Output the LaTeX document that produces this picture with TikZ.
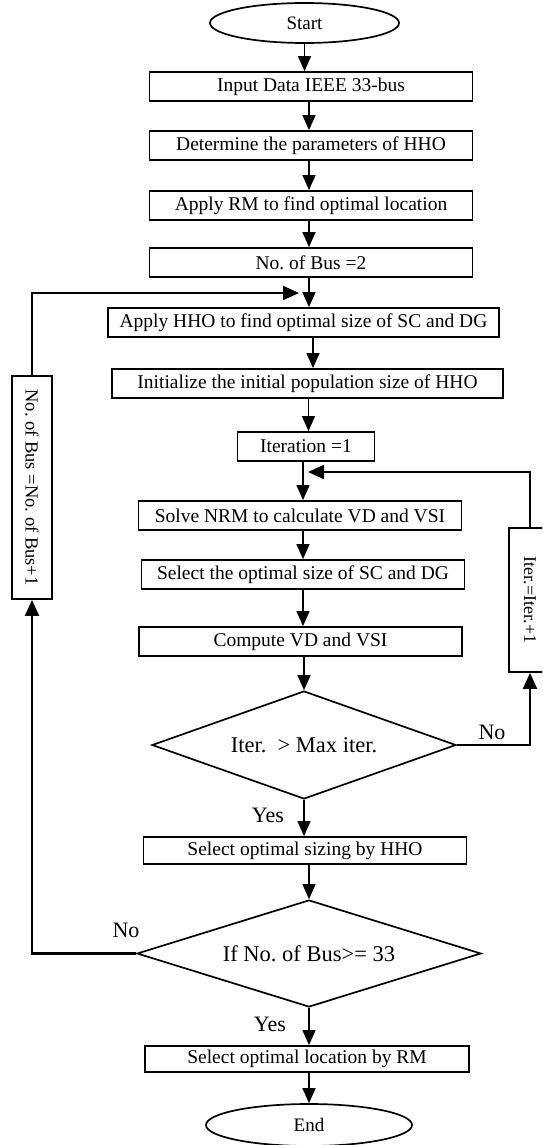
\documentclass[tikz,border=0pt]{standalone}
\usepackage{fontspec}
\setmainfont{Liberation Serif}
\usepackage{graphicx}
\usetikzlibrary{shapes.geometric,arrows.meta}
\frenchspacing
\begin{document}
\begin{tikzpicture}[x=1pt,y=-1pt,
  box/.style={draw, line width=1.8pt, minimum height=29pt, inner sep=0pt, font=\fontsize{19.5}{22}\selectfont},
  dec/.style={diamond, draw, line width=1.7pt, inner sep=0pt, font=\fontsize{22.5}{26}\selectfont},
  term/.style={ellipse, draw, line width=1.7pt, inner sep=0pt, font=\fontsize{19}{22}\selectfont},
  arr/.style={line width=1.4pt, -{Triangle[length=15pt,width=13pt]}},
  looparr/.style={line width=2.2pt, -{Triangle[length=16pt,width=14pt]}},
  lbl/.style={font=\fontsize{22}{26}\selectfont, inner sep=0pt}
]
\clip (0,0) rectangle (542,1145);
\fill[white] (0,0) rectangle (542,1145);

\node[term, minimum width=189pt, minimum height=40pt] (start) at (304.5,23) {Start};
\node[box, minimum width=323pt] (b1) at (311,86.5) {Input Data IEEE 33-bus};
\node[box, minimum width=323pt] (b2) at (311,145.5) {Determine the parameters of HHO};
\node[box, minimum width=323pt] (b3) at (311,205.5) {Apply RM to find optimal location};
\node[box, minimum width=323pt] (b4) at (311,262.5) {No. of Bus =2};
\node[box, minimum width=391pt] (b5) at (303.5,322.5) {Apply HHO to find optimal size of SC and DG};
\node[box, minimum width=391pt] (b6) at (307.5,383.5) {Initialize the initial population size of HHO};
\node[box, minimum width=137pt] (b7) at (306,446.5) {Iteration =1};
\node[box, minimum width=323pt] (b8) at (300,515.5) {Solve NRM to calculate VD and VSI};
\node[box, minimum width=323pt] (b9) at (303,574.5) {Select the optimal size of SC and DG};
\node[box, minimum width=323pt] (b10) at (300.5,641.5) {Compute VD and VSI};
\node[dec, minimum width=304pt, minimum height=108pt, aspect=2.8] (d1) at (304,745) {Iter.\ \ > Max iter.};
\node[box, minimum width=323pt, minimum height=27pt] (b11) at (305,850.5) {Select optimal sizing by HHO};
\node[dec, minimum width=344pt, minimum height=107pt, aspect=3.2] (d2) at (309,953.5) {If No. of Bus>= 33};
\node[box, minimum width=324pt, minimum height=26pt] (b12) at (307,1059) {Select optimal location by RM};
\node[term, minimum width=206pt, minimum height=42pt] (end) at (309,1125) {End};
\node[box, minimum width=40pt, minimum height=223pt, font=\fontsize{18.5}{22}\selectfont] (lb) at (32,487.5) {\rotatebox{-90}{No. of Bus =No. of Bus+1}};
\node[box, minimum width=42pt, minimum height=144pt, font=\fontsize{18}{22}\selectfont] (rb) at (530,600) {\rotatebox{-90}{Iter.=Iter.+1}};

\node[lbl] (no1) at (492,732) {No};
\node[lbl] (yes1) at (268,815) {Yes};
\node[lbl] (no2) at (126,930) {No};
\node[lbl] (yes2) at (270,1024) {Yes};

\draw[arr] (start.south) -- (start.south |- b1.north);
\draw[arr] ([xshift=-2pt]b1.south) -- ([xshift=-2pt]b1.south |- b2.north);
\draw[arr] ([xshift=-2pt]b2.south) -- ([xshift=-2pt]b2.south |- b3.north);
\draw[arr] ([xshift=-2pt]b3.south) -- ([xshift=-2pt]b3.south |- b4.north);
\draw[arr] ([xshift=-2pt]b4.south) -- ([xshift=-2pt]b4.south |- b5.north);
\draw[arr] ([xshift=9.5pt]b5.south) -- ([xshift=9.5pt]b5.south |- b6.north);
\draw[arr] ([xshift=1pt]b6.south) -- ([xshift=1pt]b6.south |- b7.north);
\draw[arr] ([xshift=-3pt]b7.south) -- ([xshift=-3pt]b7.south |- b8.north);
\draw[arr] ([xshift=3pt]b8.south) -- ([xshift=3pt]b8.south |- b9.north);
\draw[arr] (b9.south) -- (b9.south |- b10.north);
\draw[arr] (d1.north |- b10.south) -- (d1.north);
\draw[arr] (d1.south) -- (d1.south |- b11.north);
\draw[arr] (d2.north |- b11.south) -- (d2.north);
\draw[arr] (d2.south) -- (d2.south |- b12.north);
\draw[arr] (end.north |- b12.south) -- (end.north);

\coordinate (j1) at (299,293);
\coordinate (j2) at (308,472);
\draw[looparr] (d2.west) -| (lb.south);
\draw[looparr] (lb.north) |- (j1);
\draw[looparr] (d1.east) -| (rb.south);
\draw[looparr] (rb.north) |- (j2);
\end{tikzpicture}
\end{document}
